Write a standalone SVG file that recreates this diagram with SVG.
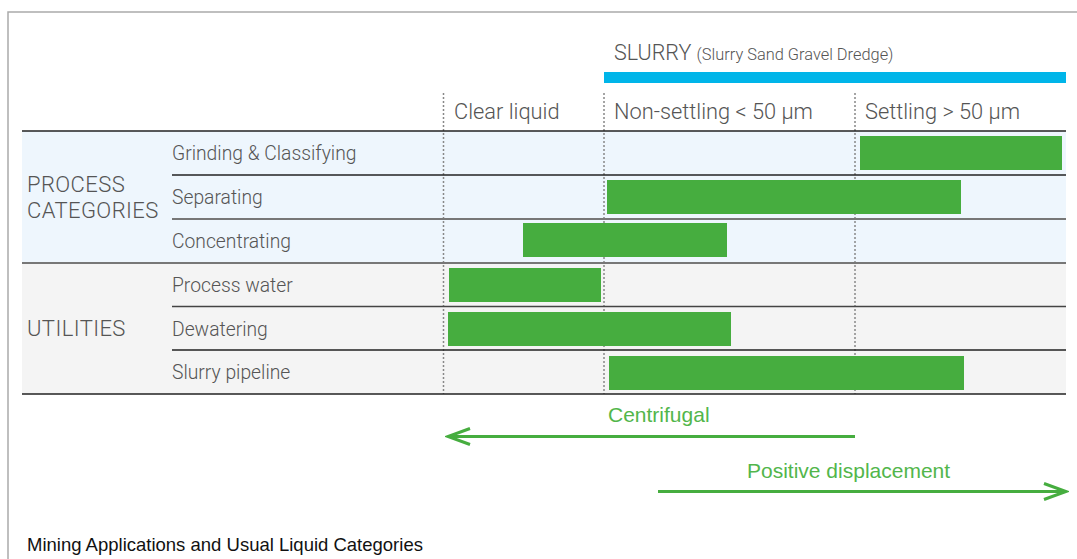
<svg xmlns="http://www.w3.org/2000/svg" width="1077" height="559" viewBox="0 0 1077 559">
<style>
.hd{font-family:Roboto,"Liberation Sans",sans-serif;font-weight:300;font-size:21.8px;fill:#555}
.grp{font-family:Roboto,"Liberation Sans",sans-serif;font-weight:300;font-size:22px;letter-spacing:0.4px;fill:#555}
.lbl{font-family:Roboto,"Liberation Sans",sans-serif;font-weight:300;font-size:19.3px;fill:#555}
.sl{font-family:Roboto,"Liberation Sans",sans-serif;font-weight:300;font-size:21.5px;fill:#555}
.slsm{font-size:16.4px}
.gt{font-family:"Liberation Sans",Arial,sans-serif;font-size:21px;fill:#52b64b}
.cap{font-family:"Liberation Sans",Arial,sans-serif;font-size:18.5px;fill:#111}
.bar{fill:#46ad3f}
.dot{stroke:#888;stroke-width:1.5;stroke-dasharray:2 2;fill:none}
.ln{stroke:#222;stroke-width:1.5}
.lg{stroke:#777;stroke-width:2}
.arr{stroke:#46ad3f;stroke-width:3;fill:none}
</style>
<defs>
<marker id="ah" markerWidth="26" markerHeight="20" refX="23" refY="10" orient="auto" markerUnits="userSpaceOnUse">
<path d="M1,2 L23,10 L1,18" fill="none" stroke="#46ad3f" stroke-width="3"/>
</marker>
</defs>
<rect width="1077" height="559" fill="#fff"/>
<g id="frame" stroke="#aaa" stroke-width="1.5" fill="none">
<path d="M8,559 L8,12 L1077,12"/>
</g>
<g id="backgrounds">
<rect x="22" y="131" width="1044" height="132" fill="#eef6fd"/>
<rect x="22" y="263" width="1044" height="131" fill="#f4f4f4"/>
</g>
<g id="slurry-header">
<text class="sl" x="614" y="60">SLURRY <tspan class="slsm">(Slurry Sand Gravel Dredge)</tspan></text>
<rect x="604" y="72" width="462" height="11" fill="#00b5e9"/>
</g>
<g id="column-headers">
<text class="hd" x="454" y="119">Clear liquid</text>
<text class="hd" x="614" y="119">Non-settling &lt; 50 μm</text>
<text class="hd" x="865" y="119">Settling &gt; 50 μm</text>
</g>
<g id="grid">
<line class="dot" x1="443.5" y1="93" x2="443.5" y2="394"/>
<line class="dot" x1="604" y1="93" x2="604" y2="394"/>
<line class="dot" x1="855" y1="93" x2="855" y2="394"/>
<line class="ln" x1="22" y1="131" x2="1066" y2="131"/>
<line class="ln" x1="172" y1="175" x2="1066" y2="175"/>
<line class="lg" x1="172" y1="219" x2="1066" y2="219"/>
<line class="lg" x1="22" y1="263" x2="1066" y2="263"/>
<line class="ln" x1="172" y1="306.5" x2="1066" y2="306.5" style="stroke:#444"/>
<line class="ln" x1="172" y1="350" x2="1066" y2="350"/>
<line class="ln" x1="22" y1="394" x2="1066" y2="394"/>
</g>
<g id="group-process">
<text class="grp" x="27" y="192">PROCESS</text>
<text class="grp" x="27" y="218">CATEGORIES</text>
</g>
<g id="group-utilities">
<text class="grp" x="27" y="336">UTILITIES</text>
</g>
<g id="row-grinding">
<text class="lbl" x="172" y="160">Grinding &amp; Classifying</text>
<rect class="bar" x="860" y="136" width="202" height="34"/>
</g>
<g id="row-separating">
<text class="lbl" x="172" y="204">Separating</text>
<rect class="bar" x="607" y="180" width="354" height="34"/>
</g>
<g id="row-concentrating">
<text class="lbl" x="172" y="248">Concentrating</text>
<rect class="bar" x="523" y="223" width="204" height="34"/>
</g>
<g id="row-process-water">
<text class="lbl" x="172" y="292">Process water</text>
<rect class="bar" x="449" y="268" width="152" height="34"/>
</g>
<g id="row-dewatering">
<text class="lbl" x="172" y="336">Dewatering</text>
<rect class="bar" x="448" y="312" width="283" height="34"/>
</g>
<g id="row-slurry-pipeline">
<text class="lbl" x="172" y="379">Slurry pipeline</text>
<rect class="bar" x="609" y="356" width="355" height="34"/>
</g>
<g id="connectors">
<line class="arr" x1="855" y1="436.5" x2="448" y2="436.5" marker-end="url(#ah)"/>
<line class="arr" x1="658" y1="491.5" x2="1066" y2="491.5" marker-end="url(#ah)"/>
</g>
<g id="arrow-labels">
<text class="gt" x="608" y="422">Centrifugal</text>
<text class="gt" x="747" y="478">Positive displacement</text>
</g>
<g id="caption">
<text class="cap" x="27" y="551">Mining Applications and Usual Liquid Categories</text>
</g>
</svg>
